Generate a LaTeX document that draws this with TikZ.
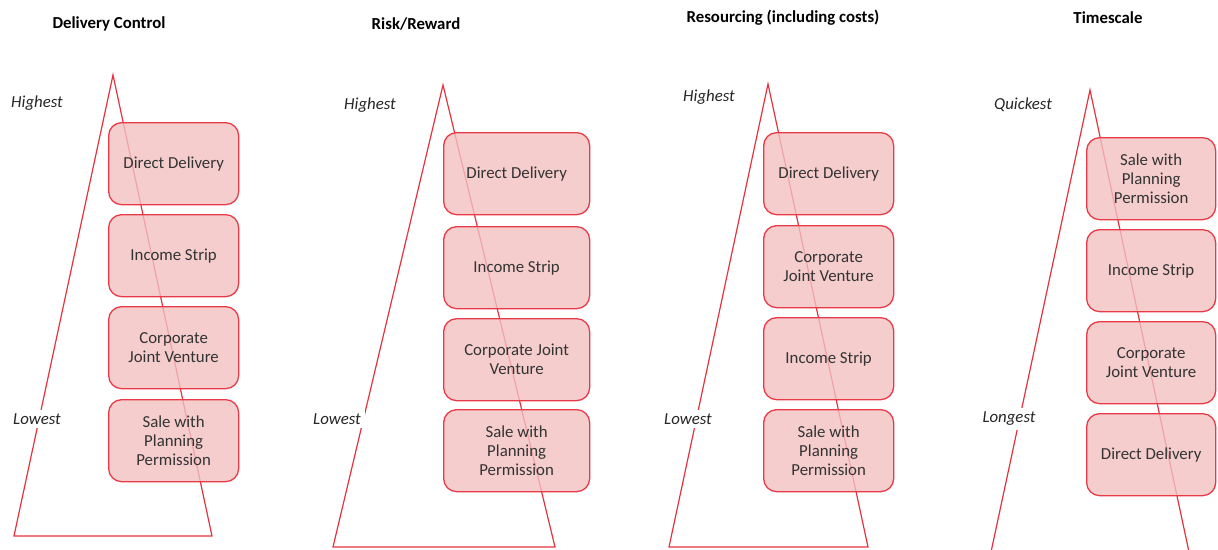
\documentclass[tikz,border=0pt]{standalone}
\usepackage{fontspec}
\setmainfont{Carlito}
\begin{document}
\begin{tikzpicture}[x=1pt,y=-1pt,
  every node/.style={font=\fontsize{16.8}{19}\selectfont},
  header/.style={font=\fontsize{16.8}{19}\selectfont\bfseries, text=black},
  rank/.style={font=\fontsize{16.8}{19}\selectfont\itshape, text=black!85, fill=white, inner sep=4pt},
  option/.style={draw=boxred, line width=1.3pt, fill=boxfill, fill opacity=0.8, text opacity=1,
    rounded corners=13pt, text=black!80, align=center, anchor=north west, inner sep=2pt},
  wedge/.style={draw=linered, line width=1.2pt, line join=miter}
]
\definecolor{boxred}{RGB}{232,58,70}
\definecolor{linered}{RGB}{230,50,62}
\definecolor{boxfill}{RGB}{242,192,192}

\useasboundingbox (0,0) rectangle (1218,549);
\clip (0,0) rectangle (1218,549);

% ---------- Delivery Control ----------
\node[header] (h1) at (109,24) {Delivery Control};
\coordinate (a1) at (113,75);
\coordinate (l1) at (14,536);
\coordinate (r1) at (212,536);
\draw[wedge] (a1) -- (l1) -- (r1) -- cycle;
\node[rank] (hi1) at (37,103) {Highest};
\node[rank] (lo1) at (37,419) {Lowest};
\node[option, minimum width=130pt, minimum height=82pt] (b11) at (108,122) {Direct Delivery};
\node[option, minimum width=130pt, minimum height=82pt] (b12) at (108,214) {Income Strip};
\node[option, minimum width=130pt, minimum height=82pt] (b13) at (108,306) {Corporate\\Joint Venture};
\node[option, minimum width=130pt, minimum height=82pt] (b14) at (108,399) {Sale with\\Planning\\Permission};

% ---------- Risk/Reward ----------
\node[header] (h2) at (416,24) {Risk/Reward};
\coordinate (a2) at (443,85);
\coordinate (l2) at (333,547);
\coordinate (r2) at (555,547);
\draw[wedge] (a2) -- (l2) -- (r2) -- cycle;
\node[rank] (hi2) at (370,105) {Highest};
\node[rank] (lo2) at (337,419) {Lowest};
\node[option, minimum width=146pt, minimum height=82pt] (b21) at (443,132) {Direct Delivery};
\node[option, minimum width=146pt, minimum height=82pt] (b22) at (443,226) {Income Strip};
\node[option, minimum width=146pt, minimum height=82pt] (b23) at (443,318) {Corporate Joint\\Venture};
\node[option, minimum width=146pt, minimum height=82pt] (b24) at (443,409) {Sale with\\Planning\\Permission};

% ---------- Resourcing ----------
\node[header] (h3) at (783,18) {Resourcing (including costs)};
\coordinate (a3) at (768,84);
\coordinate (l3) at (669,547);
\coordinate (r3) at (868,547);
\draw[wedge] (a3) -- (l3) -- (r3) -- cycle;
\node[rank] (hi3) at (709,97) {Highest};
\node[rank] (lo3) at (688,419) {Lowest};
\node[option, minimum width=130pt, minimum height=82pt] (b31) at (763,132) {Direct Delivery};
\node[option, minimum width=130pt, minimum height=82pt] (b32) at (763,225) {Corporate\\Joint Venture};
\node[option, minimum width=130pt, minimum height=82pt] (b33) at (763,317) {Income Strip};
\node[option, minimum width=130pt, minimum height=82pt] (b34) at (763,409) {Sale with\\Planning\\Permission};

% ---------- Timescale ----------
\node[header] (h4) at (1108,18) {Timescale};
\coordinate (a4) at (1090,90);
\coordinate (l4) at (988,566);
\coordinate (r4) at (1192,566);
\draw[wedge] (a4) -- (l4) -- (r4) -- cycle;
\node[rank] (hi4) at (1023,105) {Quickest};
\node[rank] (lo4) at (1009,419) {Longest};
\node[option, minimum width=129pt, minimum height=82pt] (b41) at (1086,137) {Sale with\\Planning\\Permission};
\node[option, minimum width=129pt, minimum height=82pt] (b42) at (1086,229) {Income Strip};
\node[option, minimum width=129pt, minimum height=82pt] (b43) at (1086,321) {Corporate\\Joint Venture};
\node[option, minimum width=129pt, minimum height=82pt] (b44) at (1086,413) {Direct Delivery};
\end{tikzpicture}
\end{document}
